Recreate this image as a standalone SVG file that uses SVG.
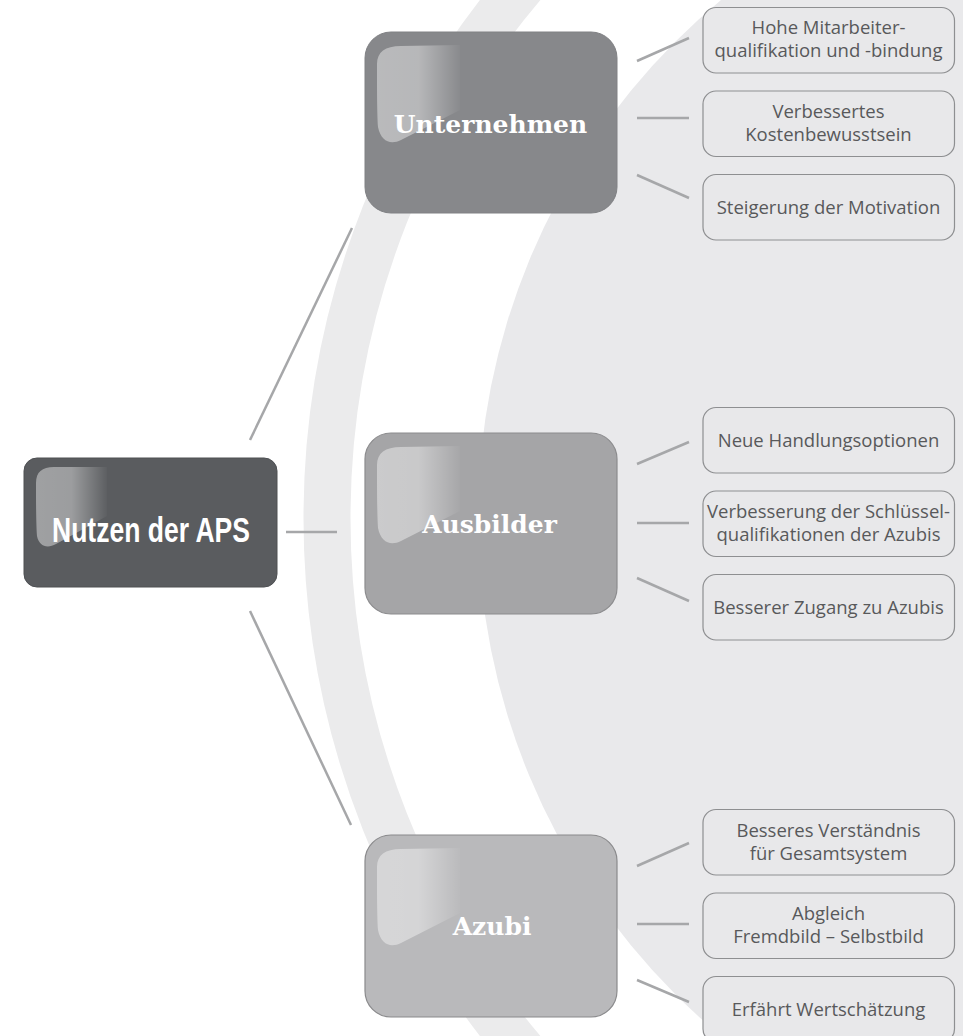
<svg xmlns="http://www.w3.org/2000/svg" width="963" height="1036" viewBox="0 0 963 1036">
<defs>
<linearGradient id="gloss" x1="0" y1="0" x2="1" y2="0">
<stop offset="0" stop-color="#fff" stop-opacity="0.42"/>
<stop offset="0.5" stop-color="#fff" stop-opacity="0.40"/>
<stop offset="1" stop-color="#fff" stop-opacity="0.02"/>
</linearGradient>
<path id="gl" d="M12,32 C12,20 20,14 36,14 L95,13 L95,78 L36,108 C26,113 16,110 13,95 C12,80 12,50 12,32 Z"/>
</defs>
<style>
.conn{stroke:#a6a7a9;stroke-width:2.5;fill:none}
.leaf rect{fill:#e8e8ea;stroke:#8e8f91;stroke-width:1.2}
.leaf text{font-family:"Open Sans","DejaVu Sans",sans-serif;font-size:18.5px;fill:#58595b;text-anchor:middle}
.mid text{font-family:"DejaVu Serif","Liberation Serif",serif;font-weight:bold;font-size:25px;fill:#fff;text-anchor:middle}
</style>
<rect width="963" height="1036" fill="#fff"/>
<g id="background">
<circle cx="1151.6" cy="518" r="824.6" fill="none" stroke="#ebebec" stroke-width="47"/>
<circle cx="1151.6" cy="518" r="673.6" fill="#e9e9eb"/>
</g>
<g id="connectors">
<line class="conn" x1="250" y1="440" x2="352" y2="228"/>
<line class="conn" x1="286" y1="532" x2="337" y2="532"/>
<line class="conn" x1="250" y1="611" x2="351" y2="825"/>
<line class="conn" x1="637" y1="61" x2="689" y2="38"/>
<line class="conn" x1="637" y1="118" x2="689" y2="118"/>
<line class="conn" x1="637" y1="175" x2="689" y2="198"/>
<line class="conn" x1="637" y1="464" x2="689" y2="442"/>
<line class="conn" x1="637" y1="523" x2="689" y2="523"/>
<line class="conn" x1="637" y1="578" x2="689" y2="601"/>
<line class="conn" x1="637" y1="866" x2="689" y2="843"/>
<line class="conn" x1="637" y1="924" x2="689" y2="924"/>
<line class="conn" x1="637" y1="980" x2="689" y2="1002"/>
</g>
<g id="root">
<rect x="24" y="458" width="253" height="129" rx="13" fill="#5a5c5f" stroke="#4e5053" stroke-width="1"/>
<path transform="translate(24,458)" d="M12,25 C12,14 18,9 30,9 L83,9 L83,58 L32,86 C23,91 15,88 13,78 C12,65 12,40 12,25 Z" fill="url(#gloss)"/>
<text x="151" y="541.5" font-family="'Liberation Sans',Arial,sans-serif" font-weight="bold" font-size="35" fill="#fff" text-anchor="middle" textLength="198" lengthAdjust="spacingAndGlyphs">Nutzen der APS</text>
</g>
<g id="unternehmen" class="mid">
<rect x="365" y="32" width="252" height="181" rx="26" fill="#87888b" stroke="#808184" stroke-width="1"/>
<use href="#gl" transform="translate(365,32)" fill="url(#gloss)"/>
<text x="490.5" y="133">Unternehmen</text>
</g>
<g id="ausbilder" class="mid">
<rect x="365" y="433" width="252" height="181" rx="26" fill="#a5a5a7" stroke="#8c8c8e" stroke-width="1.2"/>
<use href="#gl" transform="translate(365,433)" fill="url(#gloss)"/>
<text x="489.5" y="533">Ausbilder</text>
</g>
<g id="azubi" class="mid">
<rect x="365" y="835" width="252" height="182" rx="26" fill="#b9b9bb" stroke="#8a8a8c" stroke-width="1.2"/>
<use href="#gl" transform="translate(365,835)" fill="url(#gloss)"/>
<text x="492" y="935">Azubi</text>
</g>
<g id="leaf-u1" class="leaf"><rect x="703" y="7.5" width="251.5" height="65.5" rx="13"/><text x="828.5" y="34">Hohe Mitarbeiter-</text><text x="828.5" y="57">qualifikation und -bindung</text></g>
<g id="leaf-u2" class="leaf"><rect x="703" y="91" width="251.5" height="65.5" rx="13"/><text x="828.5" y="118">Verbessertes</text><text x="828.5" y="141">Kostenbewusstsein</text></g>
<g id="leaf-u3" class="leaf"><rect x="703" y="174.5" width="251.5" height="65.5" rx="13"/><text x="828.5" y="213.5">Steigerung der Motivation</text></g>
<g id="leaf-a1" class="leaf"><rect x="703" y="407.5" width="251.5" height="65.5" rx="13"/><text x="828.5" y="446.5">Neue Handlungsoptionen</text></g>
<g id="leaf-a2" class="leaf"><rect x="703" y="491" width="251.5" height="65.5" rx="13"/><text x="828.5" y="518">Verbesserung der Schlüssel-</text><text x="828.5" y="541">qualifikationen der Azubis</text></g>
<g id="leaf-a3" class="leaf"><rect x="703" y="574.5" width="251.5" height="65.5" rx="13"/><text x="828.5" y="613.5">Besserer Zugang zu Azubis</text></g>
<g id="leaf-z1" class="leaf"><rect x="703" y="809.5" width="251.5" height="65.5" rx="13"/><text x="828.5" y="836.5">Besseres Verständnis</text><text x="828.5" y="859.5">für Gesamtsystem</text></g>
<g id="leaf-z2" class="leaf"><rect x="703" y="893" width="251.5" height="65.5" rx="13"/><text x="828.5" y="920">Abgleich</text><text x="828.5" y="943">Fremdbild – Selbstbild</text></g>
<g id="leaf-z3" class="leaf"><rect x="703" y="976.5" width="251.5" height="65.5" rx="13"/><text x="828.5" y="1015.5">Erfährt Wertschätzung</text></g>
</svg>
